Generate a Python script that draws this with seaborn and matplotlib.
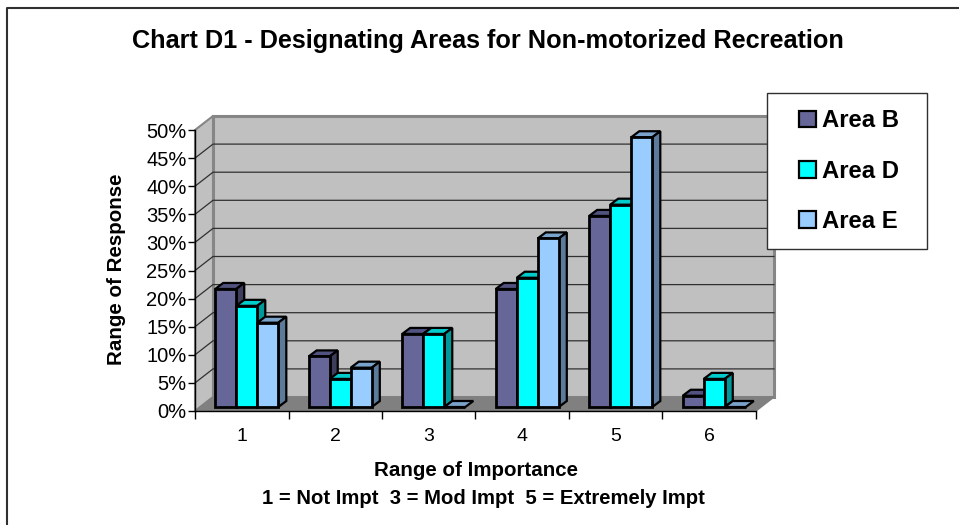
import matplotlib
matplotlib.use("Agg")
import matplotlib.pyplot as plt
from matplotlib.lines import Line2D
from matplotlib.patches import Polygon, Rectangle
from matplotlib.ticker import PercentFormatter
import pandas as pd
import seaborn as sns

importance = ["1", "2", "3", "4", "5", "6"]
area_b = [21, 9, 13, 21, 34, 2]
area_d = [18, 5, 13, 23, 36, 5]
area_e = [15, 7, 0, 30, 48, 0]

areas = ["Area B", "Area D", "Area E"]
y_ticks = [0, 5, 10, 15, 20, 25, 30, 35, 40, 45, 50]

front_colors = ["#666699", "#00FFFF", "#99CCFF"]
top_colors = ["#525280", "#00CCCC", "#7AA3CC"]
side_colors = ["#3D3D5C", "#009999", "#5C7A99"]

WIDTH, HEIGHT = 959, 525
# axis plane in pixels
LEFT, RIGHT, TOP, BOTTOM = 195, 756, 130, 411

plt.rcParams["font.family"] = ["Liberation Sans", "DejaVu Sans"]

df = pd.DataFrame(
    {
        "importance": importance * 3,
        "area": [a for a in areas for _ in importance],
        "share": area_b + area_d + area_e,
    }
)

fig = plt.figure(figsize=(WIDTH / 100, HEIGHT / 100), dpi=100)
ax = fig.add_axes(
    [
        LEFT / WIDTH,
        1 - BOTTOM / HEIGHT,
        (RIGHT - LEFT) / WIDTH,
        (BOTTOM - TOP) / HEIGHT,
    ]
)
ax.patch.set_visible(False)

sns.barplot(
    data=df,
    x="importance",
    y="share",
    hue="area",
    palette=front_colors,
    saturation=1,
    width=0.675,
    gap=0,
    edgecolor="black",
    linewidth=2,
    legend=False,
    ax=ax,
    zorder=5,
)
ax.set_xlim(-0.5, 5.5)
ax.set_ylim(0, 50)

# pixel sizes turned into data units
px_x = 6 / (RIGHT - LEFT)
px_y = 50 / (BOTTOM - TOP)
wall_dx, wall_dy = 18 * px_x, 14 * px_y
bar_dx, bar_dy = 5 * px_x, 4 * px_y
depth_x, depth_y = 8 * px_x, 6 * px_y

# back wall, side wall and floor
x0, x1 = -0.5, 5.5
ax.add_patch(
    Rectangle(
        (x0 + wall_dx, wall_dy),
        x1 - x0,
        50,
        facecolor="#C0C0C0",
        edgecolor="#868686",
        linewidth=2.2,
        clip_on=False,
        zorder=1,
    )
)
ax.add_patch(
    Polygon(
        [(x0, 0), (x0 + wall_dx, wall_dy), (x0 + wall_dx, 50 + wall_dy), (x0, 50)],
        facecolor="#C0C0C0",
        edgecolor="#868686",
        linewidth=1.5,
        clip_on=False,
        zorder=1,
    )
)
ax.add_patch(
    Polygon(
        [(x0, 0), (x0 + wall_dx, wall_dy), (x1 + wall_dx, wall_dy), (x1, 0)],
        facecolor="#808080",
        edgecolor="#808080",
        linewidth=1,
        clip_on=False,
        zorder=2,
    )
)
for tick in y_ticks[1:-1]:
    ax.plot(
        [x0, x0 + wall_dx, x1 + wall_dx],
        [tick, tick + wall_dy, tick + wall_dy],
        color="#303030",
        linewidth=0.9,
        clip_on=False,
        zorder=3,
    )

# move the bars onto the floor and give them depth
for bar_set, top_c, side_c in zip(ax.containers, top_colors, side_colors):
    for bar in bar_set:
        bar.set_x(bar.get_x() + bar_dx)
        bar.set_y(bar_dy)
        bar.set_clip_on(False)
        bx0, bx1 = bar.get_x(), bar.get_x() + bar.get_width()
        by0, by1 = bar_dy, bar_dy + bar.get_height()
        order = 5 + bx0 * 0.01
        bar.set_zorder(order + 0.002)
        ax.add_patch(
            Polygon(
                [
                    (bx0, by1),
                    (bx0 + depth_x, by1 + depth_y),
                    (bx1 + depth_x, by1 + depth_y),
                    (bx1, by1),
                ],
                facecolor=top_c,
                edgecolor="black",
                linewidth=1.6,
                clip_on=False,
                zorder=order,
            )
        )
        if bar.get_height() > 0:
            ax.add_patch(
                Polygon(
                    [
                        (bx1, by0),
                        (bx1 + depth_x, by0 + depth_y),
                        (bx1 + depth_x, by1 + depth_y),
                        (bx1, by1),
                    ],
                    facecolor=side_c,
                    edgecolor="black",
                    linewidth=1.6,
                    clip_on=False,
                    zorder=order,
                )
            )

for side in ["top", "right"]:
    ax.spines[side].set_visible(False)
for side in ["left", "bottom"]:
    ax.spines[side].set_linewidth(1)
    ax.spines[side].set_zorder(8)

ax.set_yticks(y_ticks)
ax.yaxis.set_major_formatter(PercentFormatter(xmax=100, decimals=0))
ax.set_xticks(range(6), importance)
ax.set_xticks([i - 0.5 for i in range(7)], minor=True)
ax.tick_params(axis="x", which="major", length=0, labelsize=14, pad=12)
ax.tick_params(axis="x", which="minor", length=6, width=1)
ax.tick_params(axis="y", length=5, width=1, labelsize=14.5, pad=1)

ax.set_xlabel("")
ax.set_ylabel("")
fig.text(
    488 / WIDTH, 1 - 41 / HEIGHT,
    "Chart D1 - Designating Areas for Non-motorized Recreation",
    ha="center", va="center", fontsize=18.2, fontweight="bold",
)
fig.text(
    117 / WIDTH, 1 - 269 / HEIGHT,
    "Range of Response",
    ha="center", va="center", rotation=90, fontsize=14.8, fontweight="bold",
)
fig.text(
    476 / WIDTH, 1 - 471 / HEIGHT,
    "Range of Importance",
    ha="center", va="center", fontsize=14.8, fontweight="bold",
)
fig.text(
    483 / WIDTH, 1 - 499 / HEIGHT,
    "1 = Not Impt  3 = Mod Impt  5 = Extremely Impt",
    ha="center", va="center", fontsize=14.6, fontweight="bold",
)

# legend box, drawn separately so the padding can differ per side
fig.add_artist(
    Rectangle(
        (767 / WIDTH, 1 - 249 / HEIGHT),
        160 / WIDTH,
        156 / HEIGHT,
        transform=fig.transFigure,
        facecolor="white",
        edgecolor="#303030",
        linewidth=1,
        zorder=5,
    )
)
handles = [
    Rectangle((0, 0), 1, 1, facecolor=c, edgecolor="black", linewidth=1.6)
    for c in front_colors
]
leg = fig.legend(
    handles,
    areas,
    loc="center left",
    bbox_to_anchor=(799 / WIDTH, 1 - 171 / HEIGHT),
    frameon=False,
    prop={"size": 17.2, "weight": "bold"},
    handlelength=0.7,
    handleheight=0.7,
    handletextpad=0.25,
    labelspacing=1.14,
    borderpad=0,
    borderaxespad=0,
)
leg.set_zorder(6)

# outer chart border, only left and top are inside the picture
fig.add_artist(
    Line2D(
        [7 / WIDTH, 7 / WIDTH, 1],
        [0, 1 - 8 / HEIGHT, 1 - 8 / HEIGHT],
        transform=fig.transFigure,
        color="#303030",
        linewidth=1.5,
    )
)

fig.savefig("out.png", dpi=100)
